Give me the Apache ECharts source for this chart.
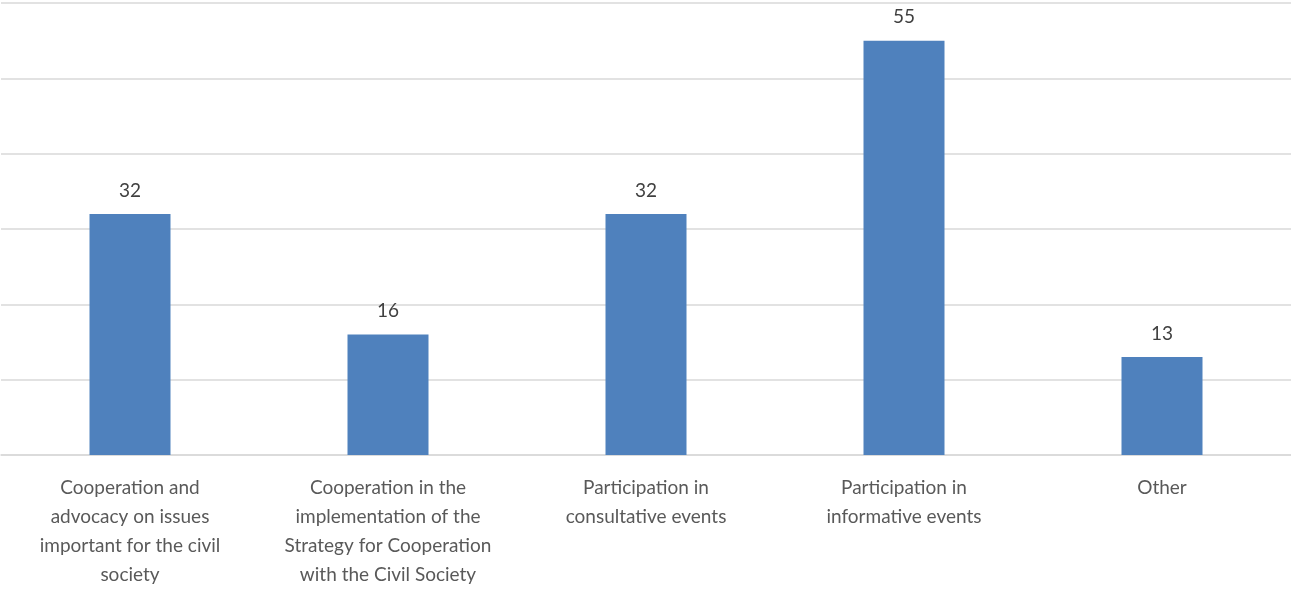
<!DOCTYPE html>
<html>
<head>
<meta charset="utf-8">
<script src="https://cdn.jsdelivr.net/npm/echarts@6/dist/echarts.min.js"></script>
<style>
  html, body { margin: 0; padding: 0; background: #fff; }
  #chart { width: 1291px; height: 589px; }
</style>
</head>
<body>
<div id="chart"></div>
<script>
// Activity categories (line breaks as they appear under each bar)
const categories = [
  'Cooperation and\nadvocacy on issues\nimportant for the civil\nsociety',
  'Cooperation in the\nimplementation of the\nStrategy for Cooperation\nwith the Civil Society',
  'Participation in\nconsultative events',
  'Participation in\ninformative events',
  'Other'
];
// Number of responses per category
const values = [32, 16, 32, 55, 13];

const FONT = 'Lato, "Open Sans", "Liberation Sans", sans-serif';

const chart = echarts.init(document.getElementById('chart'), null, { renderer: 'canvas' });
chart.setOption({
  animation: false,
  grid: { left: 1, right: 0, top: 3, bottom: 128, containLabel: false },
  xAxis: {
    type: 'category',
    data: categories,
    axisLine: { show: true, lineStyle: { color: '#d9d9d9', width: 1.5 } },
    axisTick: { show: false },
    axisLabel: {
      interval: 0,
      margin: 18,
      color: '#595959',
      fontFamily: FONT,
      fontSize: 19,
      lineHeight: 29
    }
  },
  yAxis: {
    type: 'value',
    min: 0,
    max: 60,
    interval: 10,
    axisLine: { show: false },
    axisTick: { show: false },
    axisLabel: { show: false },
    splitLine: { lineStyle: { color: '#d9d9d9', width: 1.5 } }
  },
  series: [{
    type: 'bar',
    data: values,
    barWidth: 81,
    itemStyle: { color: '#4f81bd' },
    label: {
      show: true,
      position: 'top',
      distance: 14,
      color: '#404040',
      fontFamily: FONT,
      fontSize: 19
    }
  }]
});
</script>
</body>
</html>
